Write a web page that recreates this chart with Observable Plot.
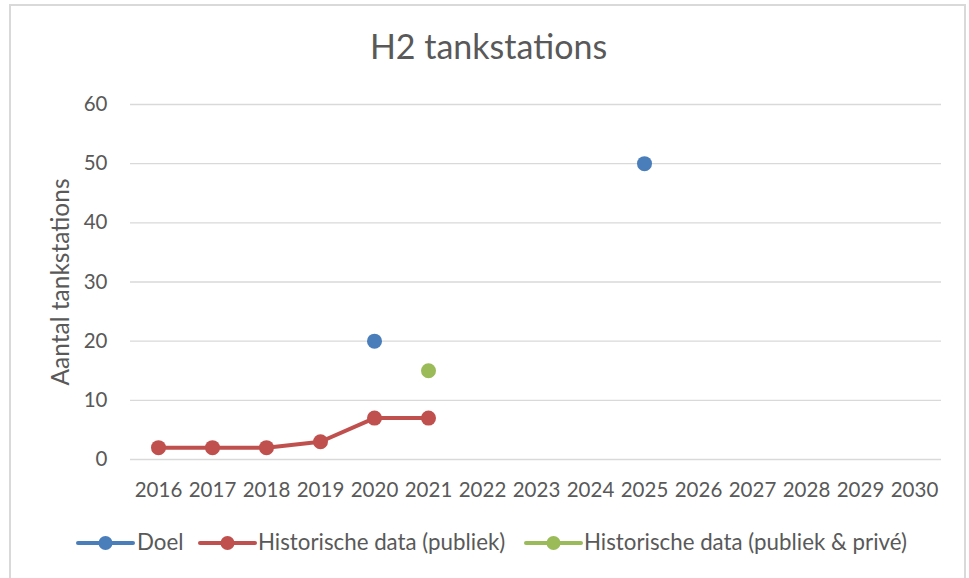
<!DOCTYPE html>
<html>
<head>
<meta charset="utf-8">
<script src="https://cdn.jsdelivr.net/npm/d3@7"></script>
<script src="https://cdn.jsdelivr.net/npm/@observablehq/plot@0.6"></script>
<style>
  body { margin: 0; background: #fff; }
  #wrap { position: relative; width: 969px; height: 578px; overflow: hidden; font-family: Lato, "Open Sans", sans-serif; color: #595959; }
  #frame { position: absolute; left: 9px; top: 4px; width: 957px; height: 590px; border: 2px solid #d9d9d9; box-sizing: border-box; }
  #title { position: absolute; left: 9px; width: 959px; top: 25.5px; text-align: center; font-size: 34px; line-height: 1.2; color: #595959; white-space: nowrap; }
  #chart { position: absolute; left: 0; top: 85px; }
  #legend { position: absolute; left: 0; top: 0; width: 969px; height: 578px; font-size: 22.3px; color: #595959; }
  .sw { position: absolute; }
  .lt { position: absolute; white-space: nowrap; line-height: 1.2; }
</style>
</head>
<body>
<div id="wrap">
  <div id="frame"></div>
  <div id="title">H2 tankstations</div>
  <div id="chart"></div>
  <div id="legend"></div>
</div>
<script>
const years = ["2016","2017","2018","2019","2020","2021","2022","2023","2024","2025","2026","2027","2028","2029","2030"];
const yTicks = [0, 10, 20, 30, 40, 50, 60];
const yLabel = "Aantal tankstations";

const goalYears = ["2020", "2025"];
const goalValues = [20, 50];

const publicYears = ["2016", "2017", "2018", "2019", "2020", "2021"];
const publicValues = [2, 2, 2, 3, 7, 7];

const privateYears = ["2021"];
const privateValues = [15];

const seriesNames = ["Doel", "Historische data (publiek)", "Historische data (publiek & privé)"];
const seriesColors = ["#4a7ebb", "#c0504d", "#9bbb59"];

const toRows = (xs, vs) => xs.map((x, i) => ({year: x, value: vs[i]}));
const goal = toRows(goalYears, goalValues);
const pub = toRows(publicYears, publicValues);
const priv = toRows(privateYears, privateValues);

const chart = Plot.plot({
  width: 969,
  height: 430,
  marginTop: 19,
  marginBottom: 56,
  marginLeft: 130,
  marginRight: 28,
  style: {fontFamily: "Lato, 'Open Sans', sans-serif", fontSize: "20.5px", color: "#595959", background: "transparent"},
  x: {type: "point", domain: years, padding: 0.5},
  y: {domain: [0, 60]},
  marks: [
    Plot.ruleY(yTicks, {stroke: "#d9d9d9", strokeWidth: 1.3}),
    Plot.axisX({tickSize: 0, tickPadding: 23, label: null, fontSize: 20.5}),
    Plot.axisY({ticks: yTicks, tickSize: 0, tickPadding: 23, label: null, fontSize: 20.5}),
    Plot.text([yLabel], {frameAnchor: "left", rotate: -90, dx: -69, text: d => d, fontSize: 24.5, fill: "#595959", textAnchor: "middle", lineAnchor: "middle"}),
    Plot.line(pub, {x: "year", y: "value", stroke: seriesColors[1], strokeWidth: 4, strokeLinecap: "round", strokeLinejoin: "round"}),
    Plot.dot(pub, {x: "year", y: "value", r: 7.5, fill: seriesColors[1]}),
    Plot.dot(goal, {x: "year", y: "value", r: 7.5, fill: seriesColors[0]}),
    Plot.dot(priv, {x: "year", y: "value", r: 7.5, fill: seriesColors[2]})
  ]
});
document.getElementById("chart").appendChild(chart);

// legend item placement (swatch left edge, text left edge)
const legendSwatchX = [78, 200, 526];
const legendTextX = [137, 258, 584];
const legend = document.getElementById("legend");
seriesNames.forEach((name, i) => {
  const sw = document.createElement("div");
  sw.className = "sw";
  sw.style.left = (legendSwatchX[i] - 2) + "px";
  sw.style.top = (543 - 8) + "px";
  sw.innerHTML = `<svg width="60" height="16" style="display:block"><line x1="2" x2="57" y1="8" y2="8" stroke="${seriesColors[i]}" stroke-width="4" stroke-linecap="round"/><circle cx="29.5" cy="8" r="7" fill="${seriesColors[i]}"/></svg>`;
  legend.appendChild(sw);
  const t = document.createElement("div");
  t.className = "lt";
  t.style.left = legendTextX[i] + "px";
  t.style.top = (551 - 0.987 * 22.3) + "px";
  t.textContent = name;
  legend.appendChild(t);
});
</script>
</body>
</html>
